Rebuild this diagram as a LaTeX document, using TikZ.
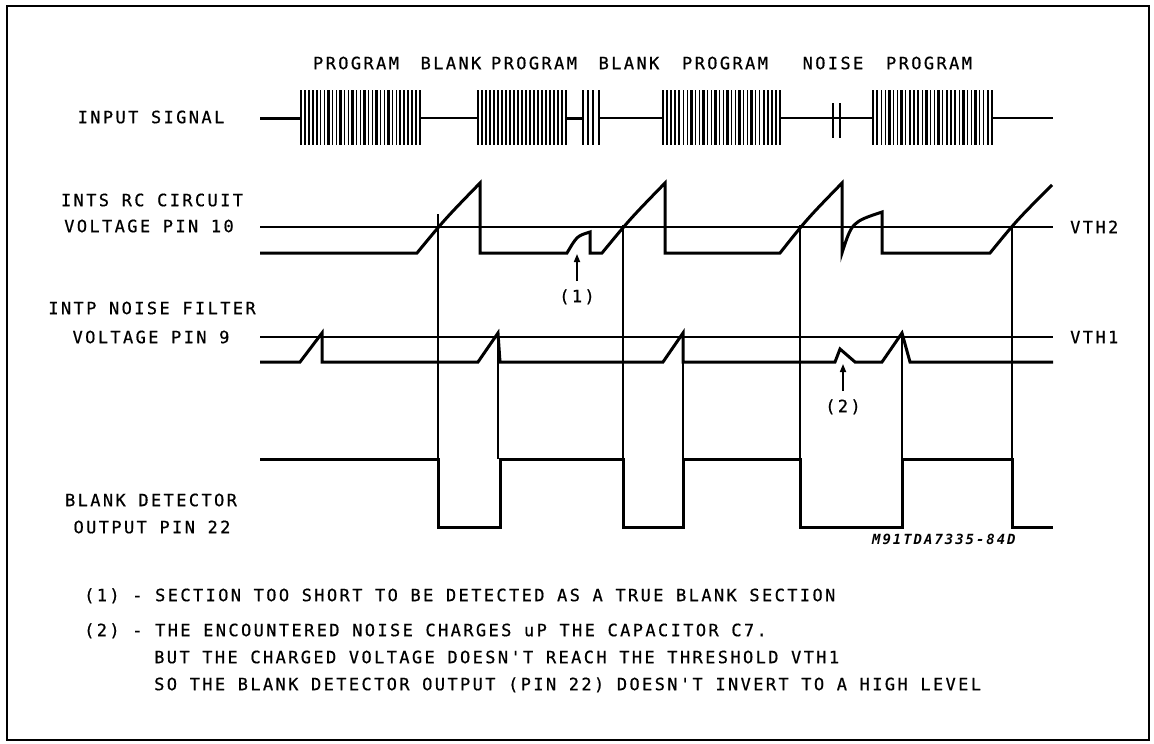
\documentclass[tikz,border=0pt]{standalone}
\usepackage{fontspec}
\usetikzlibrary{arrows.meta}
\newfontfamily\plotfont[LetterSpace=14,FakeBold=0.6]{DejaVu Sans Mono}
\newfontfamily\idfont[LetterSpace=14]{DejaVu Sans Mono}
\newcommand{\myburst}[3]{%
  \foreach \k in {1,...,#3}{%
    \pgfmathsetmacro{\xx}{#1+(#2-#1)*\k/(#3+1)}%
    \pgfmathsetmacro{\ww}{mod(\k,3)==1 ? 2.6 : 1.3}%
    \draw[line width=\ww pt] (\xx,90) -- (\xx,145);
  }%
  \draw[line width=2.8pt] (#1,90) -- (#1,145);
  \draw[line width=2.8pt] (#2,90) -- (#2,145);
}
\tikzset{
  wave/.style={line width=3pt, line join=miter, line cap=butt},
  thinln/.style={line width=1.4pt},
  lbl/.style={font={\plotfont\fontsize{17}{20}\selectfont}, inner sep=0pt, text height=12.4pt, text depth=0pt},
  idlbl/.style={font={\idfont\bfseries\itshape\fontsize{14}{16}\selectfont}, inner sep=0pt, text height=10pt, text depth=0pt},
  tip/.style={-{Triangle[length=8pt,width=6pt]}, line width=1.6pt},
}
\begin{document}
\begin{tikzpicture}[x=1pt,y=-1pt]
\useasboundingbox (0,0) rectangle (1154,744);
\fill[white] (0,0) rectangle (1154,744);
\draw[line width=2.6pt] (7,6) rectangle (1149,740);

% top labels
\node[lbl] (t1) at (356,63) {PROGRAM};
\node[lbl] (t2) at (451,63) {BLANK};
\node[lbl] (t3) at (534,63) {PROGRAM};
\node[lbl] (t4) at (629,63) {BLANK};
\node[lbl] (t5) at (725,63) {PROGRAM};
\node[lbl] (t6) at (833,63) {NOISE};
\node[lbl] (t7) at (929,63) {PROGRAM};

% left labels
\node[lbl] (l1) at (151,117) {INPUT SIGNAL};
\node[lbl] (l2) at (152,200) {INTS RC CIRCUIT};
\node[lbl] (l3) at (149,226) {VOLTAGE PIN 10};
\node[lbl] (l4) at (152,308) {INTP NOISE FILTER};
\node[lbl] (l5) at (151,337) {VOLTAGE PIN 9};
\node[lbl] (l6) at (151,500) {BLANK DETECTOR};
\node[lbl] (l7) at (152,527) {OUTPUT PIN 22};

% input signal
\draw[line width=3pt] (260,118) -- (301,118);
\draw[thinln] (420,118) -- (478,118);
\draw[line width=3pt] (566,118) -- (583,118);
\draw[thinln] (599,118) -- (663,118);
\draw[thinln] (780,118) -- (873,118);
\draw[thinln] (992,118) -- (1053,118);
\myburst{301}{420}{29}
\myburst{478}{566}{21}
\foreach \xx/\ww in {583/2.2,588/1.3,593/1.3,599/2.2}{\draw[line width=\ww pt] (\xx,90) -- (\xx,145);}
\myburst{663}{780}{28}
\draw[line width=1.6pt] (833,103) -- (833,138);
\draw[line width=1.6pt] (840,103) -- (840,138);
\myburst{873}{992}{28}

% thresholds
\draw[thinln] (260,227) -- (1053,227);
\draw[thinln] (260,337) -- (1053,337);
\node[lbl, anchor=west] (vth2) at (1070,227) {VTH2};
\node[lbl, anchor=west] (vth1) at (1070,337) {VTH1};

% RC circuit voltage
\draw[wave] (260,253) -- (417,253) .. controls (445,219) .. (480,183) -- (480,253) -- (567,253)
  .. controls (577,236) .. (590,232) -- (590,253) -- (602,253) .. controls (630,219) .. (665,183)
  -- (665,253) -- (780,253) .. controls (807,219) .. (842,183) -- (842,253)
  .. controls (852,222) .. (882,212) -- (882,253) -- (990,253) .. controls (1017,220) .. (1052,185);

% noise filter voltage
\draw[wave] (260,362) -- (300,362) -- (322,333) -- (322,362) -- (478,362) -- (498,333) -- (500,362)
  -- (663,362) -- (683,333) -- (683,362) -- (835,362) -- (840,349) -- (855,362) -- (882,362)
  -- (902,333) -- (910,362) -- (1053,362);

% vertical markers
\foreach \xx/\yy in {438/214,623/225,800/225,1012/225,498/333,683/333,902/333}{
  \draw[thinln] (\xx,\yy) -- (\xx,459);
}

% blank detector output
\draw[wave] (260,459) -- (438,459) -- (438,527) -- (500,527) -- (500,459) -- (623,459) -- (623,527)
  -- (683,527) -- (683,459) -- (800,459) -- (800,527) -- (902,527) -- (902,459) -- (1012,459)
  -- (1012,527) -- (1053,527);

% annotations
\node[lbl] (n1) at (577,296) {(1)};
\coordinate (a1s) at (577,281);
\coordinate (a1e) at (577,254);
\draw[tip] (a1s) -- (a1e);
\node[lbl] (n2) at (843,406) {(2)};
\coordinate (a2s) at (843,391);
\coordinate (a2e) at (843,364);
\draw[tip] (a2s) -- (a2e);

\node[idlbl, anchor=west] (id) at (872,539) {M91TDA7335-84D};

% notes
\node[lbl, anchor=west] (nt1) at (84,595) {(1) - SECTION TOO SHORT TO BE DETECTED AS A TRUE BLANK SECTION};
\node[lbl, anchor=west] (nt2) at (84,630) {(2) - THE ENCOUNTERED NOISE CHARGES uP THE CAPACITOR C7.};
\node[lbl, anchor=west] (nt3) at (154,657) {BUT THE CHARGED VOLTAGE DOESN'T REACH THE THRESHOLD VTH1};
\node[lbl, anchor=west] (nt4) at (154,684) {SO THE BLANK DETECTOR OUTPUT (PIN 22) DOESN'T INVERT TO A HIGH LEVEL};
\end{tikzpicture}
\end{document}
